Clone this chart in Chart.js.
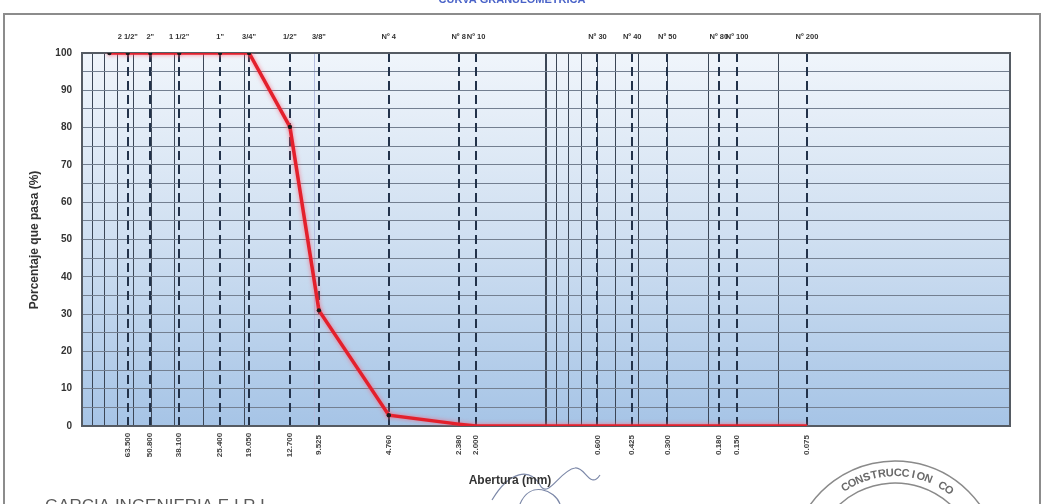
<!DOCTYPE html>
<html><head><meta charset="utf-8">
<script src="https://cdn.jsdelivr.net/npm/chart.js@4.4.1/dist/chart.umd.min.js"></script>
<style>html,body{margin:0;padding:0;background:#fff;overflow:hidden}canvas{display:block}</style>
</head><body>
<canvas id="c" width="1047" height="504"></canvas>
<script>
// ---- data ----
const sieveNames = ['', '2 1/2"', '2"', '1 1/2"', '1"', '3/4"', '1/2"', '3/8"', 'Nº 4', 'Nº 8', 'Nº 10', 'Nº 30', 'Nº 40', 'Nº 50', 'Nº 80', 'Nº 100', 'Nº 200'];
const openings = [76.2, 63.5, 50.8, 38.1, 25.4, 19.05, 12.7, 9.525, 4.76, 2.38, 2.0, 0.6, 0.425, 0.3, 0.18, 0.15, 0.075];
const openingLabels = ['', '63.500', '50.800', '38.100', '25.400', '19.050', '12.700', '9.525', '4.760', '2.380', '2.000', '0.600', '0.425', '0.300', '0.180', '0.150', '0.075'];
const passing = [100, 100, 100, 100, 100, 100, 80.2, 31.0, 2.9, 0.5, 0, 0, 0, 0, 0, 0, 0];
const xGrid = [100, 90, 80, 70, 60, 50, 40, 30, 20, 10, 1, 0.9, 0.8, 0.7, 0.6, 0.5, 0.4, 0.3, 0.2, 0.1, 0.01];

const FONT = '"Liberation Sans", Arial, sans-serif';
const NARROW = '"Liberation Sans Narrow", "Liberation Sans", Arial, sans-serif';

const decor = {
  id: 'decor',
  beforeDraw(chart) {
    const {ctx, chartArea: a} = chart;
    ctx.save();
    ctx.fillStyle = '#fff';
    ctx.fillRect(0, 0, chart.width, chart.height);
    const g = ctx.createLinearGradient(0, a.top, 0, a.bottom);
    g.addColorStop(0, '#f0f5fb');
    g.addColorStop(0.5, '#cfdff1');
    g.addColorStop(1, '#a6c4e6');
    ctx.fillStyle = g;
    ctx.fillRect(a.left, a.top, a.right - a.left, a.bottom - a.top);
    ctx.restore();
  },
  beforeDatasetsDraw(chart) {
    const {ctx, chartArea: a} = chart;
    const xs = chart.scales.x;
    ctx.save();
    ctx.strokeStyle = '#22324a';
    ctx.lineWidth = 2;
    ctx.setLineDash([9, 5]);
    openings.forEach((v, i) => {
      if (!sieveNames[i]) return;
      const x = Math.round(xs.getPixelForValue(v));
      ctx.beginPath();
      ctx.moveTo(x, a.top);
      ctx.lineTo(x, a.bottom);
      ctx.stroke();
    });
    ctx.setLineDash([]);
    ctx.strokeStyle = '#555b63';
    ctx.lineWidth = 2;
    ctx.strokeRect(a.left, a.top, a.right - a.left, a.bottom - a.top);
    ctx.restore();
  },
  beforeDatasetDraw(chart) {
    const ctx = chart.ctx;
    ctx.save();
    ctx.shadowColor = 'rgba(255,90,110,0.75)';
    ctx.shadowBlur = 4;
  },
  afterDatasetDraw(chart) {
    chart.ctx.restore();
  },
  afterDraw(chart) {
    const {ctx} = chart;
    const xs = chart.scales.x;
    ctx.save();
    ctx.fillStyle = '#333';
    ctx.font = 'bold 7.5px ' + NARROW;
    ctx.textAlign = 'center';
    ctx.textBaseline = 'middle';
    openings.forEach((v, i) => {
      if (!sieveNames[i]) return;
      ctx.fillText(sieveNames[i], xs.getPixelForValue(v), 37);
    });
    ctx.font = 'bold 8px ' + FONT;
    ctx.fillStyle = '#444';
    openings.forEach((v, i) => {
      if (!openingLabels[i]) return;
      ctx.save();
      ctx.translate(xs.getPixelForValue(v), 445);
      ctx.rotate(-Math.PI / 2);
      ctx.textAlign = 'center';
      ctx.textBaseline = 'middle';
      ctx.fillText(openingLabels[i], 0, 0);
      ctx.restore();
    });
    ctx.save();
    ctx.translate(35, 240);
    ctx.rotate(-Math.PI / 2);
    ctx.font = 'bold 12px ' + FONT;
    ctx.fillStyle = '#333';
    ctx.textAlign = 'center';
    ctx.textBaseline = 'middle';
    ctx.fillText('Porcentaje que pasa (%)', 0, 0);
    ctx.restore();
    ctx.strokeStyle = '#8c8c8c';
    ctx.lineWidth = 2;
    ctx.strokeRect(4, 14, 1036, 500);
    ctx.fillStyle = '#4a63c8';
    ctx.font = 'bold 11px ' + FONT;
    ctx.textAlign = 'center';
    ctx.textBaseline = 'alphabetic';
    ctx.fillText('CURVA GRANULOMETRICA', 512, 3);
    ctx.strokeStyle = '#7c88a8';
    ctx.lineWidth = 1.2;
    ctx.beginPath();
    ctx.moveTo(492, 500); ctx.bezierCurveTo(510, 470, 530, 468, 540, 485);
    ctx.bezierCurveTo(548, 500, 560, 470, 575, 468);
    ctx.bezierCurveTo(585, 466, 590, 490, 600, 475);
    ctx.stroke();
    ctx.beginPath();
    ctx.moveTo(520, 504); ctx.bezierCurveTo(530, 480, 555, 490, 560, 504);
    ctx.stroke();
    ctx.fillStyle = '#333';
    ctx.font = 'bold 12px ' + FONT;
    ctx.textAlign = 'center';
    ctx.textBaseline = 'middle';
    ctx.fillText('Abertura (mm)', 510, 481);
    ctx.fillStyle = '#5a5a5a';
    ctx.font = '17px ' + FONT;
    ctx.textAlign = 'left';
    ctx.textBaseline = 'alphabetic';
    ctx.fillText('GARCIA INGENIERIA E.I.R.L.', 45, 511);
    ctx.strokeStyle = '#8a8a8a';
    ctx.lineWidth = 1.5;
    const cx = 895, cy = 565;
    ctx.beginPath(); ctx.arc(cx, cy, 104, Math.PI * 1.05, Math.PI * 1.95); ctx.stroke();
    ctx.beginPath(); ctx.arc(cx, cy, 82, Math.PI * 1.1, Math.PI * 1.9); ctx.stroke();
    ctx.fillStyle = '#6a6a6a';
    ctx.font = 'bold 11px ' + FONT;
    const txt = 'CONSTRUCCION CO';
    let ang = Math.PI * 1.32;
    for (const ch of txt) {
      ctx.save();
      ctx.translate(cx + Math.cos(ang) * 92, cy + Math.sin(ang) * 92);
      ctx.rotate(ang + Math.PI / 2);
      ctx.textAlign = 'center';
      ctx.textBaseline = 'middle';
      ctx.fillText(ch, 0, 0);
      ctx.restore();
      ang += 0.085;
    }
    ctx.restore();
  }
};

new Chart(document.getElementById('c'), {
  type: 'scatter',
  data: {
    datasets: [{
      data: openings.map((v, i) => ({x: v, y: passing[i]})),
      showLine: true,
      borderColor: '#e3202c',
      borderWidth: 3.5,
      pointRadius: ctx => (ctx.raw && ctx.raw.y > 1 ? 2.2 : 0),
      pointBackgroundColor: '#1a1a1a',
      pointBorderColor: '#1a1a1a',
      pointBorderWidth: 0,
      tension: 0
    }]
  },
  options: {
    responsive: false,
    animation: false,
    devicePixelRatio: 1,
    layout: {padding: {left: 0, right: 37, top: 53, bottom: 0}},
    plugins: {legend: {display: false}, tooltip: {enabled: false}},
    scales: {
      x: {
        type: 'logarithmic',
        reverse: true,
        min: 0.01,
        max: 100,
        afterBuildTicks: s => { s.ticks = xGrid.map(v => ({value: v})); },
        afterFit: s => { s.height = 78; },
        ticks: {display: false},
        border: {display: false},
        grid: {
          drawTicks: false,
          color: c => (c.tick && c.tick.value === 10 ? '#b4bde0' : '#3b4656'),
          lineWidth: c => (c.tick && c.tick.value === 1 ? 2 : 1)
        }
      },
      y: {
        min: 0,
        max: 100,
        afterFit: s => { s.width = 82; },
        ticks: {
          stepSize: 5,
          autoSkip: false,
          padding: 10,
          color: '#333',
          font: {family: FONT, size: 10, weight: 'bold'},
          callback: v => (v % 10 === 0 ? String(v) : '')
        },
        border: {display: false},
        grid: {drawTicks: false, color: '#737f90', lineWidth: 1}
      }
    }
  },
  plugins: [decor]
});
</script>
</body></html>
